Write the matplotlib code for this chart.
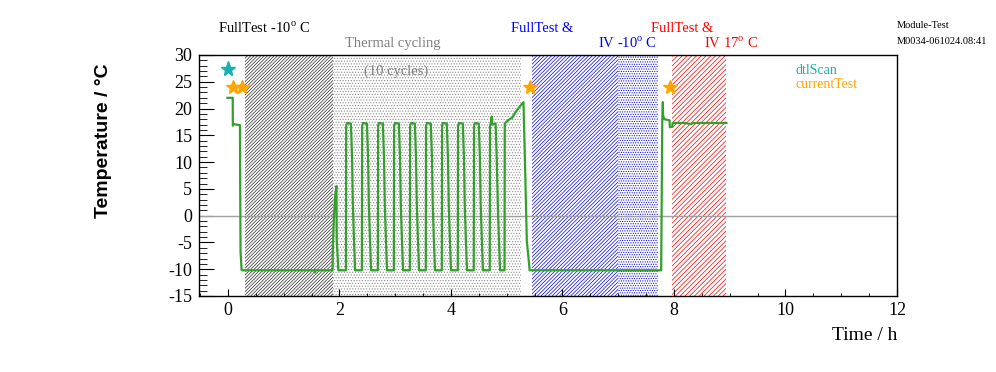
import matplotlib
matplotlib.use("Agg")
import matplotlib.pyplot as plt
from matplotlib.ticker import MultipleLocator

# temperature log (time in h, temperature in deg C)
time_h = [-0.01, 0.085, 0.087, 0.10, 0.215, 0.218, 0.225, 0.245,
          1.55, 1.56, 1.57, 1.876, 1.88, 1.90, 1.92, 1.945, 1.95, 1.98,
          2.115, 2.12, 2.135, 2.205, 2.225, 2.24, 2.26, 2.28,
          2.402, 2.407, 2.422, 2.492, 2.512, 2.527, 2.547, 2.567,
          2.688, 2.693, 2.708, 2.778, 2.798, 2.813, 2.833, 2.853,
          2.975, 2.98, 2.995, 3.065, 3.085, 3.10, 3.12, 3.14,
          3.262, 3.267, 3.282, 3.352, 3.372, 3.387, 3.407, 3.427,
          3.548, 3.553, 3.568, 3.638, 3.658, 3.673, 3.693, 3.713,
          3.835, 3.84, 3.855, 3.925, 3.945, 3.96, 3.98, 4.00,
          4.122, 4.127, 4.142, 4.212, 4.232, 4.247, 4.267, 4.287,
          4.408, 4.413, 4.428, 4.498, 4.518, 4.533, 4.553, 4.573,
          4.695, 4.70, 4.715, 4.73, 4.74, 4.80, 4.82, 4.84, 4.86, 4.88,
          4.96, 4.965, 5.0, 5.05, 5.10, 5.15, 5.22, 5.30, 5.33, 5.36, 5.40, 5.41,
          7.77, 7.775, 7.79, 7.80, 7.805, 7.83, 7.92, 7.925, 7.97, 7.975,
          8.2, 8.3, 8.35, 8.94]
temp_c = [22, 22, 16.8, 17.1, 16.9, 7.4, -6.7, -10.2,
          -10.2, -10.6, -10.2, -10.2, -6.4, -0.4, 3.6, 5.5, -4.4, -10.2,
          -10.2, 16.8, 17.3, 17.2, 11, 2, -4.5, -10.2,
          -10.2, 16.8, 17.3, 17.2, 11, 2, -4.5, -10.2,
          -10.2, 16.8, 17.3, 17.2, 11, 2, -4.5, -10.2,
          -10.2, 16.8, 17.3, 17.2, 11, 2, -4.5, -10.2,
          -10.2, 16.8, 17.3, 17.2, 11, 2, -4.5, -10.2,
          -10.2, 16.8, 17.3, 17.2, 11, 2, -4.5, -10.2,
          -10.2, 16.8, 17.3, 17.2, 11, 2, -4.5, -10.2,
          -10.2, 16.8, 17.3, 17.2, 11, 2, -4.5, -10.2,
          -10.2, 16.8, 17.3, 17.2, 11, 2, -4.5, -10.2,
          -10.2, 16.8, 17.3, 18.5, 17.0, 17.2, 11, 2, -4.5, -10.2,
          -10.2, 17.2, 17.6, 18.0, 18.3, 19.2, 20.2, 21.2, 8.7, -4.8, -8.9, -10.2,
          -10.2, -3.2, 18.0, 21.2, 18.6, 18.0, 17.8, 16.5, 16.6, 17.3,
          17.3, 17.1, 17.3, 17.3]

# test markers
dtl_t = [0.0]
dtl_y = [27.4]
cur_t = [0.085, 0.245, 5.41, 7.92]
cur_y = [24.0, 24.0, 24.0, 24.0]

# shaded test phases: start, end, colour, hatch
phase_start = [0.30, 1.88, 5.45, 7.00, 7.97]
phase_end = [1.88, 5.25, 7.00, 7.72, 8.94]
phase_color = [(0, 0, 0, 0.85), (0.45, 0.45, 0.45, 0.8), (0, 0, 1, 1),
               (0, 0, 1, 1), (1, 0, 0, 1)]
phase_hatch = ['/' * 10, '.' * 6, '/' * 9, '.' * 7, '/' * 7]

plt.rcParams['font.family'] = ['Liberation Serif', 'DejaVu Serif']
plt.rcParams['mathtext.fontset'] = 'custom'
plt.rcParams['mathtext.rm'] = 'Liberation Serif'
plt.rcParams['axes.unicode_minus'] = False
plt.rcParams['hatch.linewidth'] = 0.5

W, H = 996, 372
fig = plt.figure(figsize=(W/100, H/100), dpi=100)
ax = fig.add_axes([199/W, 1-296/H, (897-199)/W, (296-55)/H])

for s, e, c, h in zip(phase_start, phase_end, phase_color, phase_hatch):
	ax.axvspan(s, e, facecolor='none', edgecolor=c, hatch=h, lw=0, zorder=1)

ax.axhline(0, color='#a0a0a0', lw=1, zorder=2)
ax.plot(time_h, temp_c, color='#33a02c', lw=1.6, zorder=3)
ax.plot(dtl_t, dtl_y, ls='none', marker='*', ms=11, color='#17b0b0', zorder=4)
ax.plot(cur_t, cur_y, ls='none', marker='*', ms=10, color='#ffa500', zorder=4)

ax.set_xlim(-0.52, 12)
ax.set_ylim(-15, 30)
ax.xaxis.set_major_locator(MultipleLocator(2))
ax.xaxis.set_minor_locator(MultipleLocator(0.5))
ax.yaxis.set_major_locator(MultipleLocator(5))
ax.yaxis.set_minor_locator(MultipleLocator(1))
ax.tick_params(axis='both', which='both', direction='in', labelsize=13)
ax.tick_params(axis='y', which='major', length=11, pad=5)
ax.tick_params(axis='y', which='minor', length=5.5)
ax.tick_params(axis='x', which='major', length=5, pad=4)
ax.tick_params(axis='x', which='minor', length=2.5)
for sp in ax.spines.values():
	sp.set_linewidth(1)

def ftxt(x, y, s, **kw):
	fig.text(x/W, 1-y/H, s, va='center', **kw)

ftxt(104, 141, 'Temperature / °C', rotation=90, ha='center', fontsize=14,
	fontweight='bold', family=['Liberation Sans', 'DejaVu Sans'])
ftxt(897, 336, 'Time / h', ha='right', fontsize=14)

ftxt(218, 28, r'FullTest -10$^{\rm o}$ C', fontsize=10.5)
ftxt(345, 44, 'Thermal cycling', fontsize=10.5, color='#808080')
ftxt(364, 71, '(10 cycles)', fontsize=10.5, color='#808080')
ftxt(511, 28, 'FullTest &', fontsize=10.5, color='blue')
ftxt(598, 43, r'IV -10$^{\rm o}$ C', fontsize=10.5, color='blue')
ftxt(651, 28, 'FullTest &', fontsize=10.5, color='red')
ftxt(704, 43, r'IV 17$^{\rm o}$ C', fontsize=10.5, color='red')
ftxt(897, 25, 'Module-Test', fontsize=7.5)
ftxt(897, 41, 'M0034-061024.08:41', fontsize=7.5)
ftxt(796, 70, 'dtlScan', fontsize=10, color='#17b0b0')
ftxt(796, 85, 'currentTest', fontsize=10, color='#ffa500')

fig.savefig('out.png', dpi=100)
